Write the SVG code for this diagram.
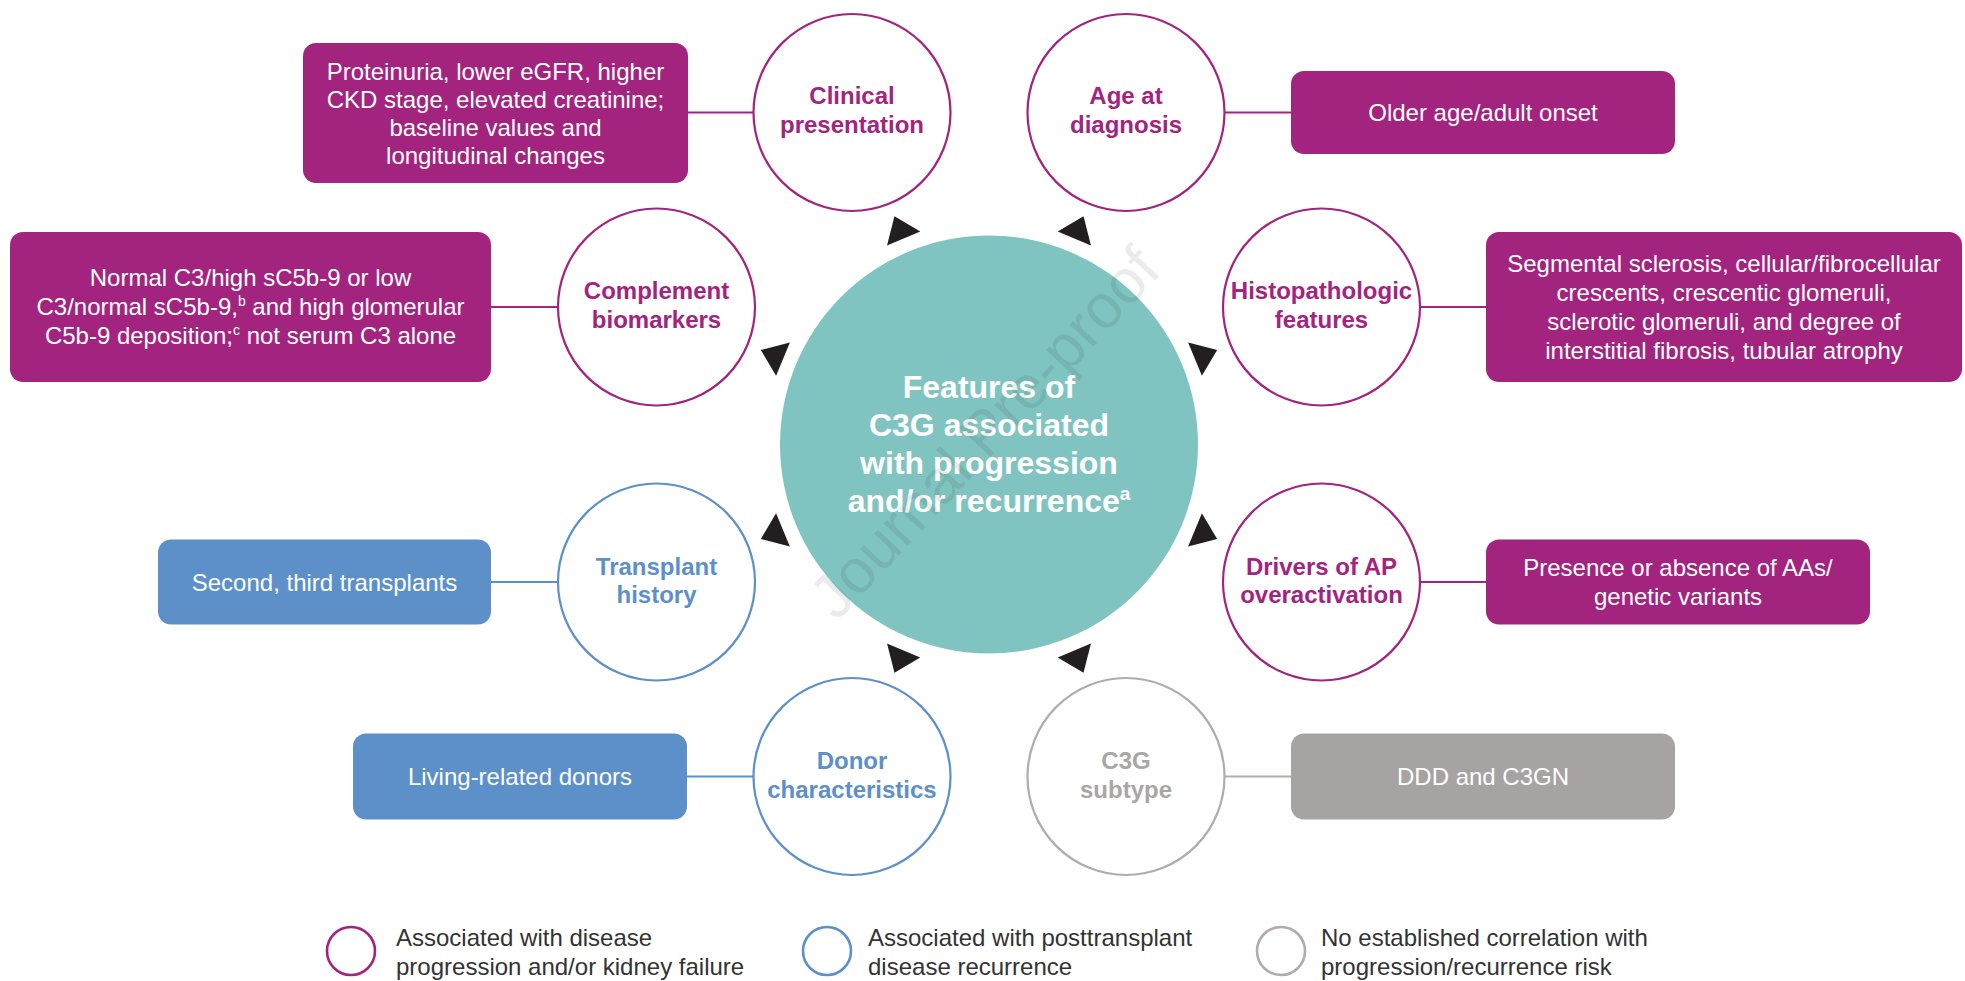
<svg xmlns="http://www.w3.org/2000/svg" width="1965" height="981" viewBox="0 0 1965 981">
<style>
  .bg{fill:#ffffff}
  .box-m{fill:#a2247e}
  .box-b{fill:#5d90c9}
  .box-g{fill:#a7a3a2}
  .circ{fill:#ffffff;stroke-width:2.2}
  .c-m{stroke:#a2247e}
  .c-b{stroke:#5d90c9}
  .c-g{stroke:#b0acab}
  .ln-m{stroke:#a2247e;stroke-width:2.2}
  .ln-b{stroke:#5d90c9;stroke-width:2.2}
  .ln-g{stroke:#b0acab;stroke-width:2.2}
  .btxt{font-family:"Liberation Sans",Arial,sans-serif;font-size:24px;fill:#ffffff;text-anchor:middle}
  .ctxt{font-family:"Liberation Sans",Arial,sans-serif;font-size:24px;font-weight:bold;text-anchor:middle}
  .t-m{fill:#a2247e}
  .t-b{fill:#5d90c9}
  .t-g{fill:#aaa6a5}
  .main{font-family:"Liberation Sans",Arial,sans-serif;font-size:32px;font-weight:bold;fill:#ffffff;text-anchor:middle}
  .arrow{fill:#231f20}
  .leg{font-family:"Liberation Sans",Arial,sans-serif;font-size:24px;fill:#333333}
  .lc{fill:none;stroke-width:2.6}
  .wm{font-family:"Liberation Sans",Arial,sans-serif;font-size:62px;fill:#000000;fill-opacity:0.08;text-anchor:middle}
</style>
<defs>
  <polygon id="tri" points="16,0 -8,-18 -8,18"/>
</defs>
<rect class="bg" x="0" y="0" width="1965" height="981"/>

<g id="connectors">
  <line class="ln-m" x1="688" y1="112.5" x2="753.5" y2="112.5"/>
  <line class="ln-m" x1="1224.5" y1="112.5" x2="1291" y2="112.5"/>
  <line class="ln-m" x1="491" y1="307" x2="558" y2="307"/>
  <line class="ln-m" x1="1420" y1="307" x2="1486" y2="307"/>
  <line class="ln-b" x1="491" y1="582" x2="558" y2="582"/>
  <line class="ln-m" x1="1420" y1="582" x2="1486" y2="582"/>
  <line class="ln-b" x1="687" y1="776.5" x2="753.5" y2="776.5"/>
  <line class="ln-g" x1="1224.5" y1="776.5" x2="1291" y2="776.5"/>
  <use href="#tri" class="arrow" transform="translate(900.6,231.1) rotate(-112.5)"/>
  <use href="#tri" class="arrow" transform="translate(1077.4,231.1) rotate(-67.5)"/>
  <use href="#tri" class="arrow" transform="translate(775.6,356.1) rotate(-157.5)"/>
  <use href="#tri" class="arrow" transform="translate(1202.4,356.1) rotate(-22.5)"/>
  <use href="#tri" class="arrow" transform="translate(775.6,532.9) rotate(157.5)"/>
  <use href="#tri" class="arrow" transform="translate(1202.4,532.9) rotate(22.5)"/>
  <use href="#tri" class="arrow" transform="translate(900.6,657.9) rotate(112.5)"/>
  <use href="#tri" class="arrow" transform="translate(1077.4,657.9) rotate(67.5)"/>
</g>

<g id="center">
  <circle cx="989" cy="444.5" r="209" fill="#80c4c1"/>
  <text class="main" x="989" y="398">Features of</text>
  <text class="main" x="989" y="436">C3G associated</text>
  <text class="main" x="989" y="474">with progression</text>
  <text class="main" x="989" y="512">and/or recurrence<tspan font-size="19" dy="-12">a</tspan></text>
</g>

<g id="clinical">
  <circle class="circ c-m" cx="852" cy="112.5" r="98.5"/>
  <text class="ctxt t-m" x="852" y="104">Clinical</text>
  <text class="ctxt t-m" x="852" y="133">presentation</text>
</g>
<g id="clinical-box">
  <rect class="box-m" x="303" y="43" width="385" height="140" rx="13"/>
  <text class="btxt" x="495.5" y="80">Proteinuria, lower eGFR, higher</text>
  <text class="btxt" x="495.5" y="108">CKD stage, elevated creatinine;</text>
  <text class="btxt" x="495.5" y="136">baseline values and</text>
  <text class="btxt" x="495.5" y="164">longitudinal changes</text>
</g>

<g id="age">
  <circle class="circ c-m" cx="1126" cy="112.5" r="98.5"/>
  <text class="ctxt t-m" x="1126" y="104">Age at</text>
  <text class="ctxt t-m" x="1126" y="133">diagnosis</text>
</g>
<g id="age-box">
  <rect class="box-m" x="1291" y="71" width="384" height="83" rx="13"/>
  <text class="btxt" x="1483" y="121">Older age/adult onset</text>
</g>

<g id="complement">
  <circle class="circ c-m" cx="656.5" cy="307" r="98.5"/>
  <text class="ctxt t-m" x="656.5" y="298.5">Complement</text>
  <text class="ctxt t-m" x="656.5" y="327.5">biomarkers</text>
</g>
<g id="complement-box">
  <rect class="box-m" x="10" y="232" width="481" height="150" rx="13"/>
  <text class="btxt" x="250.5" y="286">Normal C3/high sC5b-9 or low</text>
  <text class="btxt" x="250.5" y="315">C3/normal sC5b-9,<tspan font-size="14" dy="-9">b</tspan><tspan dy="9"> and high glomerular</tspan></text>
  <text class="btxt" x="250.5" y="344">C5b-9 deposition;<tspan font-size="14" dy="-9">c</tspan><tspan dy="9"> not serum C3 alone</tspan></text>
</g>

<g id="histo">
  <circle class="circ c-m" cx="1321.5" cy="307" r="98.5"/>
  <text class="ctxt t-m" x="1321.5" y="298.5">Histopathologic</text>
  <text class="ctxt t-m" x="1321.5" y="327.5">features</text>
</g>
<g id="histo-box">
  <rect class="box-m" x="1486" y="232" width="476" height="150" rx="13"/>
  <text class="btxt" x="1724" y="272">Segmental sclerosis, cellular/fibrocellular</text>
  <text class="btxt" x="1724" y="301">crescents, crescentic glomeruli,</text>
  <text class="btxt" x="1724" y="330">sclerotic glomeruli, and degree of</text>
  <text class="btxt" x="1724" y="359">interstitial fibrosis, tubular atrophy</text>
</g>

<g id="transplant">
  <circle class="circ c-b" cx="656.5" cy="582" r="98.5"/>
  <text class="ctxt t-b" x="656.5" y="574.5">Transplant</text>
  <text class="ctxt t-b" x="656.5" y="603">history</text>
</g>
<g id="transplant-box">
  <rect class="box-b" x="158" y="539.5" width="333" height="85" rx="13"/>
  <text class="btxt" x="324.5" y="590.5">Second, third transplants</text>
</g>

<g id="drivers">
  <circle class="circ c-m" cx="1321.5" cy="582" r="98.5"/>
  <text class="ctxt t-m" x="1321.5" y="574.5">Drivers of AP</text>
  <text class="ctxt t-m" x="1321.5" y="603">overactivation</text>
</g>
<g id="drivers-box">
  <rect class="box-m" x="1486" y="539.5" width="384" height="85" rx="13"/>
  <text class="btxt" x="1678" y="576">Presence or absence of AAs/</text>
  <text class="btxt" x="1678" y="605">genetic variants</text>
</g>

<g id="donor">
  <circle class="circ c-b" cx="852" cy="776.5" r="98.5"/>
  <text class="ctxt t-b" x="852" y="769">Donor</text>
  <text class="ctxt t-b" x="852" y="797.5">characteristics</text>
</g>
<g id="donor-box">
  <rect class="box-b" x="353" y="733.5" width="334" height="86" rx="13"/>
  <text class="btxt" x="520" y="785">Living-related donors</text>
</g>

<g id="subtype">
  <circle class="circ c-g" cx="1126" cy="776.5" r="98.5"/>
  <text class="ctxt t-g" x="1126" y="769">C3G</text>
  <text class="ctxt t-g" x="1126" y="797.5">subtype</text>
</g>
<g id="subtype-box">
  <rect class="box-g" x="1291" y="733.5" width="384" height="86" rx="13"/>
  <text class="btxt" x="1483" y="785">DDD and C3GN</text>
</g>

<g id="legend">
  <circle class="lc c-m" cx="351" cy="951" r="24"/>
  <text class="leg" x="396" y="946">Associated with disease</text>
  <text class="leg" x="396" y="975">progression and/or kidney failure</text>
  <circle class="lc c-b" cx="827" cy="951" r="24"/>
  <text class="leg" x="868" y="946">Associated with posttransplant</text>
  <text class="leg" x="868" y="975">disease recurrence</text>
  <circle class="lc c-g" cx="1281" cy="951" r="24"/>
  <text class="leg" x="1321" y="946">No established correlation with</text>
  <text class="leg" x="1321" y="975">progression/recurrence risk</text>
</g>

<g id="watermark">
  <text class="wm" transform="translate(1000,447) rotate(-47)">Journal Pre-proof</text>
</g>
</svg>
